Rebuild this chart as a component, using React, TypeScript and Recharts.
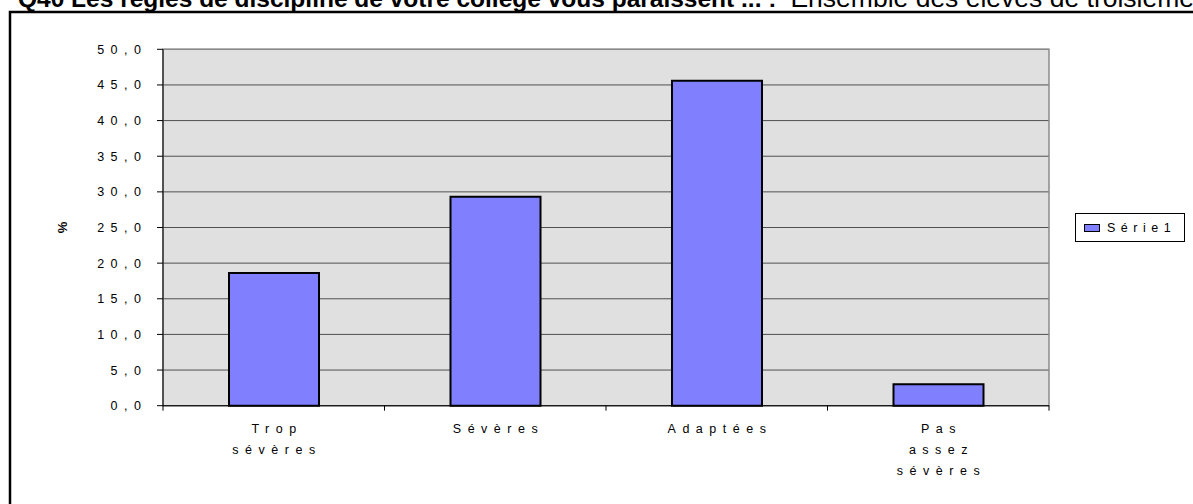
import React from "react";
import {
  BarChart,
  Bar,
  XAxis,
  YAxis,
  CartesianGrid,
  Legend,
  ReferenceArea,
} from "recharts";

// categories keep their line breaks as shown under the axis
const categories = ["Trop\nsévères", "Sévères", "Adaptées", "Pas\nassez\nsévères"];
const serie1 = [18.6, 29.3, 45.6, 3.0];
const yTicks = [0, 5, 10, 15, 20, 25, 30, 35, 40, 45, 50];
const seriesName = "Série1";
const yLabel = "%";
const titleBold = "Q40 Les règles de discipline de votre collège vous paraissent ... :";
const titleRest = "Ensemble des élèves de troisième";

const data = categories.map((cat, i) => ({ cat, value: serie1[i] }));

const FONT = "'Liberation Sans', Arial, sans-serif";
const LS = 6.5; // wide letter spacing of the old spreadsheet export

const fmt = (v: number) => v.toFixed(1).replace(".", ",");

const XTick = (props: any) => {
  const { x, y, payload, index, visibleTicksCount } = props;
  const off = payload.offset ?? 0;
  const lines = String(payload.value).split("\n");
  const isLast = index === visibleTicksCount - 1;
  return (
    <g>
      <line x1={x - off} x2={x - off} y1={y} y2={y + 5} stroke="#000" />
      {isLast && <line x1={x + off} x2={x + off} y1={y} y2={y + 5} stroke="#000" />}
      <text
        x={x + LS / 2}
        y={y}
        textAnchor="middle"
        fontSize={12.5}
        fontFamily={FONT}
        letterSpacing={LS}
        fill="#000"
      >
        {lines.map((l, i) => (
          <tspan key={i} x={x + LS / 2} dy={i === 0 ? 27.5 : 21}>
            {l}
          </tspan>
        ))}
      </text>
    </g>
  );
};

const YTick = (props: any) => {
  const { x, y, payload } = props;
  return (
    <text
      x={x + LS}
      y={y}
      dy={4.5}
      textAnchor="end"
      fontSize={12.5}
      fontFamily={FONT}
      letterSpacing={LS}
      fill="#000"
    >
      {fmt(payload.value)}
    </text>
  );
};

const LegendBox = (props: any) => {
  const { payload } = props;
  return (
    <div
      style={{
        border: "1px solid #000",
        background: "#fff",
        width: 110,
        height: 29,
        boxSizing: "border-box",
        display: "flex",
        alignItems: "center",
        paddingLeft: 8,
        fontFamily: FONT,
        fontSize: 12.5,
        letterSpacing: LS - 1,
      }}
    >
      {(payload || []).map((p: any) => (
        <React.Fragment key={p.value}>
          <span
            style={{
              display: "inline-block",
              width: 16,
              height: 8,
              background: p.color,
              border: "1.5px solid #000",
              boxSizing: "border-box",
              marginRight: 7,
            }}
          />
          <span>{p.value}</span>
        </React.Fragment>
      ))}
    </div>
  );
};

export default function App() {
  return (
    <div
      style={{
        position: "absolute",
        left: 0,
        top: 0,
        width: 1193,
        height: 504,
        overflow: "hidden",
        background: "#fff",
      }}
    >
      <svg
        width={1193}
        height={504}
        style={{ position: "absolute", left: 0, top: 0 }}
      >
        <text x={18} y={7} fontFamily={FONT} fontSize={24.5} fill="#000">
          <tspan fontWeight="bold">{titleBold}</tspan>
          <tspan dx={14} fontSize={26.5}>{titleRest}</tspan>
        </text>
        <rect x={10} y={12} width={1300} height={600} fill="none" stroke="#000" strokeWidth={2.5} />
      </svg>
      <div style={{ position: "absolute", left: 0, top: 0 }}>
        <BarChart
          width={1193}
          height={504}
          data={data}
          margin={{ top: 49.3, right: 144, left: 103, bottom: 8.3 }}
        >
          <CartesianGrid
            vertical={false}
            stroke="#505050"
            fill="#e0e0e0"
            fillOpacity={1}
          />
          <ReferenceArea
            y1={0}
            y2={50}
            fill="none"
            stroke="#8a8a8a"
            strokeWidth={1.5}
          />
          <XAxis
            dataKey="cat"
            height={90}
            interval={0}
            stroke="#000"
            tickLine={false}
            tickSize={0}
            tickMargin={0}
            tick={<XTick />}
          />
          <YAxis
            width={60}
            domain={[0, 50]}
            ticks={yTicks}
            interval={0}
            stroke="#000"
            tickSize={6}
            tickMargin={16}
            tick={<YTick />}
            label={{
              content: (p: any) => {
                const vb = p.viewBox || {};
                const cx = vb.x - 41;
                const cy = vb.y + vb.height / 2;
                return (
                  <text
                    x={cx}
                    y={cy}
                    transform={`rotate(-90 ${cx} ${cy})`}
                    textAnchor="middle"
                    dominantBaseline="central"
                    fontFamily={FONT}
                    fontWeight="bold"
                    fontSize={13}
                    fill="#000"
                  >
                    {yLabel}
                  </text>
                );
              },
            }}
          />
          <Legend
            layout="horizontal"
            verticalAlign="middle"
            align="right"
            content={<LegendBox />}
            wrapperStyle={{
              left: 1075,
              top: 213,
              right: "auto",
              width: 0,
              height: 0,
              overflow: "visible",
            }}
          />
          <Bar
            dataKey="value"
            name={seriesName}
            fill="#8080ff"
            stroke="#000"
            strokeWidth={2}
            barSize={90}
            isAnimationActive={false}
          />
        </BarChart>
      </div>
    </div>
  );
}
